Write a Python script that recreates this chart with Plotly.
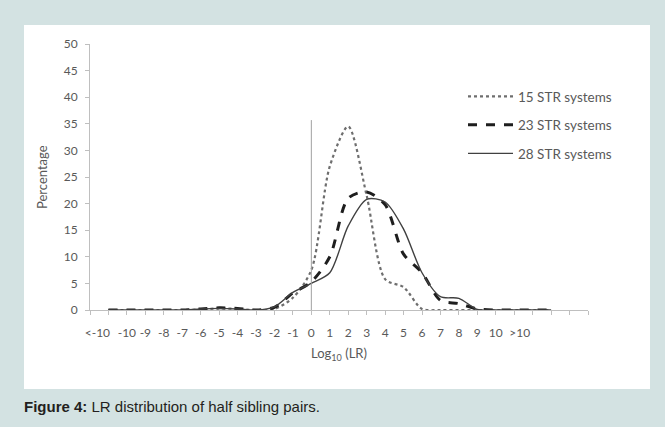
import plotly.graph_objects as go

# ---- data ----
lr_points = list(range(-11, 14))  # log10(LR) positions of the plotted points
pct_15str = [0, 0, 0, 0, 0, 0.1, 0.3, 0.2, 0, 0.2, 2.3, 7.5, 27, 34.5, 21.5,
             5.8, 4.3, 0.2, 0, 0, 0, 0, 0, 0, 0]
pct_23str = [0, 0, 0, 0, 0, 0.2, 0.4, 0.3, 0, 0.5, 3.2, 5.3, 10, 21, 22.2,
             19.8, 10.5, 7, 1.8, 1.2, 0.2, 0, 0, 0, 0]
pct_28str = [0, 0, 0, 0, 0, 0.2, 0.3, 0.2, 0, 0.6, 3.3, 5.0, 7, 15.8, 20.8,
             20.3, 15.2, 7, 2.5, 2.2, 0.1, 0, 0, 0, 0]
series_names = ["15 STR systems", "23 STR systems", "28 STR systems"]

tick_positions = [-11.6, -10, -9, -8, -7, -6, -5, -4, -3, -2, -1, 0, 1, 2, 3,
                  4, 5, 6, 7, 8, 9, 10, 11.3]
tick_labels = ["<-10", "-10", "-9", "-8", "-7", "-6", "-5", "-4", "-3", "-2",
               "-1", "0", "1", "2", "3", "4", "5", "6", "7", "8", "9", "10", ">10"]
y_ticks = list(range(0, 55, 5))

vline_x = 0
vline_top = 35.7

# ---- layout geometry (pixels) ----
W, H = 665, 427
PL, PR, PT, PB = 90, 588, 44, 310  # plot area
pw, ph = PR - PL, PB - PT


def px_x(p):
    return (p - PL) / pw


def px_y(p):
    return (PB - p) / ph


BG = "#d3e2e2"
AX = "#bfbfbf"
TXT = "#595959"
FONT = "Lato"

fig = go.Figure()
styles = [
    dict(color="#6e6e6e", width=2.2, dash="dot"),
    dict(color="#1e1e1e", width=3, dash="dash"),
    dict(color="#404040", width=1.4, dash="solid"),
]
for i, (name, vals) in enumerate(zip(series_names, [pct_15str, pct_23str, pct_28str])):
    fig.add_trace(go.Scatter(
        x=lr_points, y=vals, mode="lines", name=name,
        line=dict(shape="spline", smoothing=0.8, **styles[i]),
        legendgroup=f"g{i}",
    ))

# white panel
fig.add_shape(type="rect", xref="paper", yref="paper",
              x0=px_x(24), x1=px_x(650), y0=px_y(389), y1=px_y(25),
              fillcolor="white", line=dict(width=0), layer="below")
# vertical reference line at log10(LR)=0
fig.add_shape(type="line", xref="x", yref="y", x0=vline_x, x1=vline_x,
              y0=0, y1=vline_top, line=dict(color="#a0a0a0", width=1))

fig.add_annotation(text="Percentage", textangle=-90, xref="paper", yref="paper",
                   x=px_x(42), y=px_y(177), xanchor="center", yanchor="middle",
                   showarrow=False, font=dict(family=FONT, size=13, color=TXT))
fig.add_annotation(text="Log<sub>10</sub> (LR)", xref="paper", yref="paper",
                   x=px_x(339), y=px_y(354), xanchor="center", yanchor="middle",
                   showarrow=False, font=dict(family=FONT, size=13, color=TXT))
fig.add_annotation(text="<b>Figure 4:</b> LR distribution of half sibling pairs.",
                   xref="paper", yref="paper", x=px_x(22), y=px_y(406),
                   xanchor="left", yanchor="middle", showarrow=False,
                   font=dict(family="Liberation Sans", size=15, color="#231f20"))

fig.update_layout(
    width=W, height=H,
    margin=dict(l=PL, r=W - PR, t=PT, b=H - PB, pad=0),
    paper_bgcolor=BG, plot_bgcolor="white",
    font=dict(family=FONT, size=12, color=TXT),
    showlegend=True,
    legend=dict(x=px_x(463), y=px_y(81), xanchor="left", yanchor="top",
                bgcolor="rgba(0,0,0,0)", tracegroupgap=8, itemwidth=45,
                font=dict(family=FONT, size=13.5, color=TXT)),
    xaxis=dict(range=[-12, 15], tickmode="array", tickvals=tick_positions,
               ticktext=tick_labels, ticks="", showgrid=False, zeroline=False,
               showline=True, linecolor=AX, linewidth=1, ticklabelstandoff=12,
               tickfont=dict(family=FONT, size=12, color=TXT),
               minor=dict(ticks="outside", tickmode="linear", tick0=0, dtick=1,
                          ticklen=4, tickcolor=AX, showgrid=False)),
    yaxis=dict(range=[0, 50], tickmode="array", tickvals=y_ticks,
               ticks="outside", ticklen=4, tickcolor=AX, showgrid=False,
               zeroline=False, showline=True, linecolor=AX, linewidth=1,
               ticklabelstandoff=5,
               tickfont=dict(family=FONT, size=12, color=TXT)),
)

fig.write_html("out.html")
